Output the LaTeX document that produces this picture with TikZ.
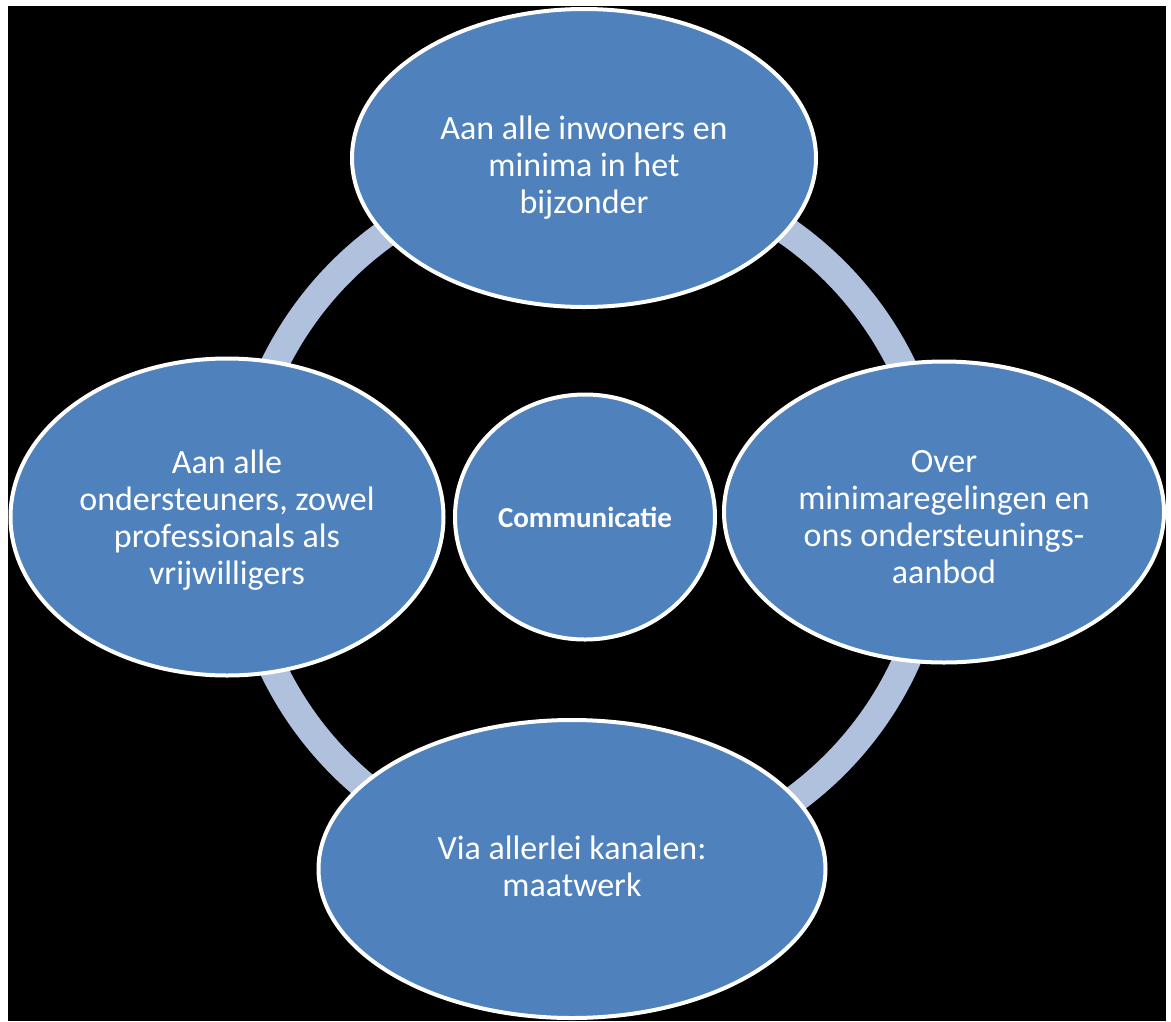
\documentclass[tikz,border=0pt]{standalone}
\usepackage{fontspec}
\setmainfont{Carlito}
\usetikzlibrary{shapes.geometric}
\definecolor{boxblue}{RGB}{79,129,189}
\definecolor{ringblue}{RGB}{176,193,222}
\begin{document}
\begin{tikzpicture}[x=1pt,y=-1pt,
  bubble/.style={ellipse, fill=boxblue, draw=white, line width=4pt, inner sep=0pt},
  bubbletext/.style={inner sep=0pt, text=white, align=center, font=\fontsize{34}{37}\selectfont},
  ringline/.style={draw=ringblue, line width=28pt}]
\useasboundingbox (0,0) rectangle (1171,1021);
\fill[black] (8,6) rectangle (1166,1021);
\coordinate (ringc) at (588,518);
\draw[ringline] (ringc) circle[radius=349pt];
\node[bubble, minimum width=464pt, minimum height=298pt] (top) at (584,158) {};
\node[bubbletext] (toptext) at ([yshift=-10pt]top.center)
  {Aan alle inwoners en\\minima in het\\bijzonder};
\node[bubble, minimum width=433pt, minimum height=317pt] (left) at (227,517) {};
\node[bubbletext] (lefttext) at ([yshift=-3pt]left.center)
  {Aan alle\\ondersteuners, zowel\\professionals als\\vrijwilligers};
\node[bubble, minimum width=440pt, minimum height=301pt] (right) at (944,512) {};
\node[bubbletext] (righttext) at ([yshift=-5pt]right.center)
  {Over\\minimaregelingen en\\ons ondersteunings-\\aanbod};
\node[bubble, minimum width=507pt, minimum height=298pt] (bottom) at (572,869) {};
\node[bubbletext] (bottomtext) at ([yshift=3pt]bottom.center)
  {Via allerlei kanalen:\\maatwerk};
\node[bubble, minimum width=260pt, minimum height=245pt] (center) at (585,517) {};
\node[bubbletext, font=\bfseries\fontsize{29}{34}\selectfont] (centertext) at (center.center)
  {Communicatie};
\end{tikzpicture}
\end{document}
